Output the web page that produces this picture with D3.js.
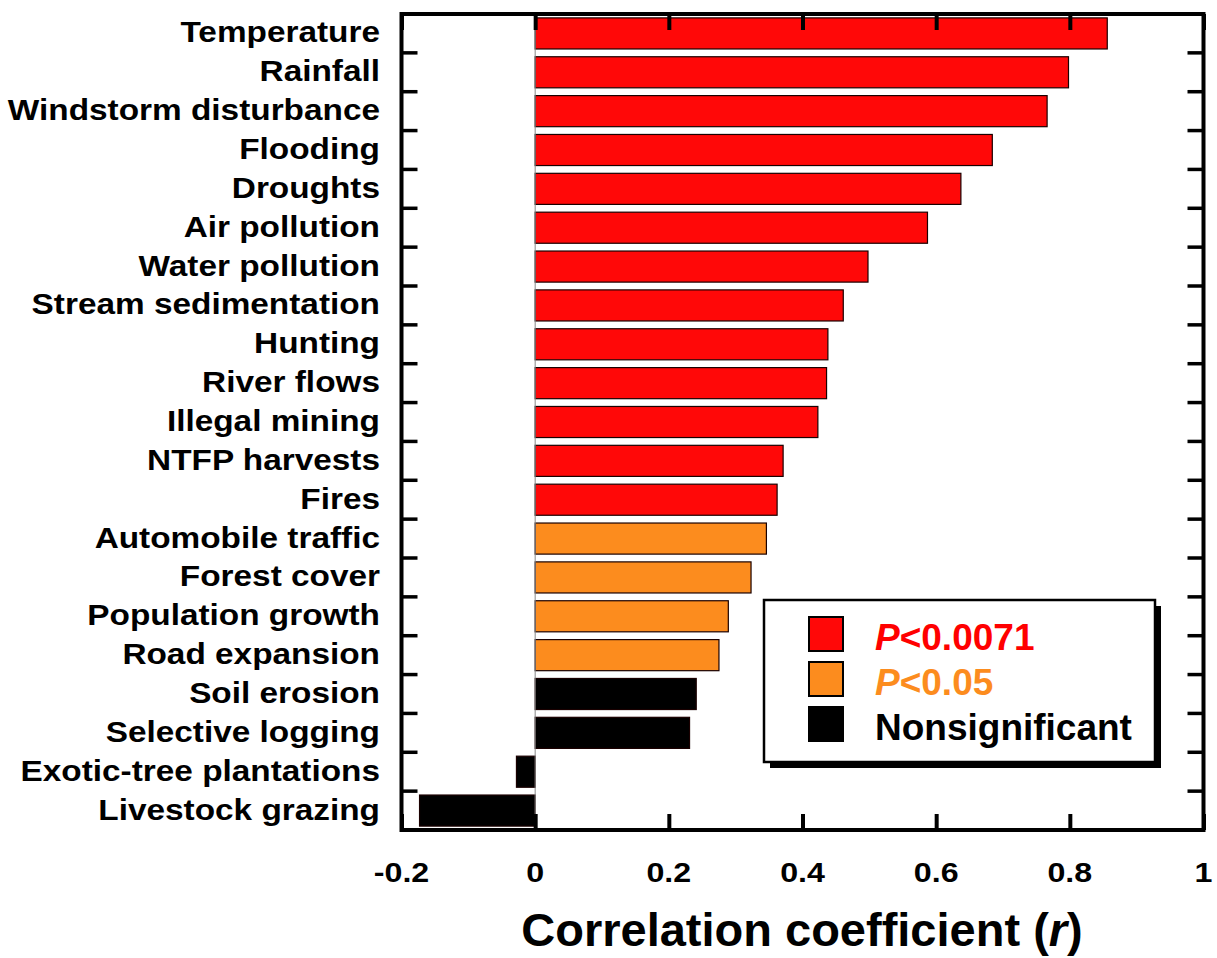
<!DOCTYPE html>
<html>
<head>
<meta charset="utf-8">
<script src="https://cdn.jsdelivr.net/npm/d3@7"></script>
<style>
  body { margin: 0; background: #fff; }
  text { font-family: "Liberation Sans", Arial, sans-serif; font-weight: bold; }
</style>
</head>
<body>
<div id="chart"></div>
<script>
// drivers, sorted as in the figure (top to bottom)
const drivers = [
  'Temperature', 'Rainfall', 'Windstorm disturbance', 'Flooding', 'Droughts',
  'Air pollution', 'Water pollution', 'Stream sedimentation', 'Hunting',
  'River flows', 'Illegal mining', 'NTFP harvests', 'Fires',
  'Automobile traffic', 'Forest cover', 'Population growth', 'Road expansion',
  'Soil erosion', 'Selective logging', 'Exotic-tree plantations', 'Livestock grazing'
];
const rValues = [
  0.856, 0.798, 0.766, 0.684, 0.637,
  0.587, 0.498, 0.461, 0.438,
  0.436, 0.423, 0.371, 0.362,
  0.346, 0.323, 0.289, 0.275,
  0.241, 0.231, -0.028, -0.173
];
// 0 = P<0.0071, 1 = P<0.05, 2 = nonsignificant
const significance = [
  0, 0, 0, 0, 0,
  0, 0, 0, 0,
  0, 0, 0, 0,
  1, 1, 1, 1,
  2, 2, 2, 2
];
const legendLabels = ['<0.0071', '<0.05', 'Nonsignificant'];
const xTicks = [-0.2, 0, 0.2, 0.4, 0.6, 0.8, 1];
const xTickLabels = ['-0.2', '0', '0.2', '0.4', '0.6', '0.8', '1'];

const fills = ['#ff0808', '#fc8c1e', '#000000'];
const textFills = ['#ff0000', '#fc8c1e', '#000000'];

const W = 1217, H = 958;
const plotL = 401.5, plotR = 1203.5, plotT = 14, plotB = 830;

const svg = d3.select('#chart').append('svg')
  .attr('width', W)
  .attr('height', H);

const x = d3.scaleLinear().domain([-0.2, 1]).range([plotL, plotR]);
const y = d3.scaleBand().domain(drivers).range([plotT, plotB])
  .paddingInner(0.2).paddingOuter(0.1);
const step = y.step();

// bars
svg.append('g').selectAll('rect')
  .data(drivers)
  .enter().append('rect')
  .attr('x', (d, i) => x(Math.min(0, rValues[i])))
  .attr('y', d => y(d))
  .attr('width', (d, i) => Math.abs(x(rValues[i]) - x(0)))
  .attr('height', y.bandwidth())
  .attr('fill', (d, i) => fills[significance[i]])
  .attr('stroke', '#1a0000')
  .attr('stroke-width', 1.2);

// zero line
svg.append('line')
  .attr('x1', x(0)).attr('x2', x(0))
  .attr('y1', plotT).attr('y2', plotB)
  .attr('stroke', '#888')
  .attr('stroke-width', 1);

// inward ticks on all four sides
const tickLen = 16;
const xAxisTop = d3.axisBottom(x).tickValues(xTicks).tickSize(tickLen).tickFormat('');
const xAxisBottom = d3.axisTop(x).tickValues(xTicks).tickSize(tickLen).tickFormat('');

const bounds = drivers.slice(1).map(d => y(d) - step * 0.1);

svg.append('g').attr('transform', `translate(0,${plotT})`).call(xAxisTop)
  .call(g => g.select('.domain').remove());
svg.append('g').attr('transform', `translate(0,${plotB})`).call(xAxisBottom)
  .call(g => g.select('.domain').remove());

svg.selectAll('.tick line').attr('stroke', '#000').attr('stroke-width', 4);

svg.append('g').selectAll('line')
  .data(bounds)
  .enter().append('line')
  .attr('x1', plotL).attr('x2', plotL + tickLen)
  .attr('y1', d => d).attr('y2', d => d)
  .attr('stroke', '#000').attr('stroke-width', 3.5);

svg.append('g').selectAll('line')
  .data(bounds)
  .enter().append('line')
  .attr('x1', plotR - tickLen).attr('x2', plotR)
  .attr('y1', d => d).attr('y2', d => d)
  .attr('stroke', '#000').attr('stroke-width', 3.5);

// frame
svg.append('rect')
  .attr('x', plotL).attr('y', plotT)
  .attr('width', plotR - plotL).attr('height', plotB - plotT)
  .attr('fill', 'none')
  .attr('stroke', '#000')
  .attr('stroke-width', 4);

// category labels (slightly wide lettering, as in the figure)
svg.append('g').selectAll('g')
  .data(drivers)
  .enter().append('g')
  .attr('transform', d => `translate(380,${y(d) + y.bandwidth() / 2 + 9}) scale(1.15,1)`)
  .append('text')
  .attr('text-anchor', 'end')
  .attr('font-size', 29)
  .attr('fill', '#000')
  .text(d => d);

// x tick labels
svg.append('g').selectAll('g')
  .data(xTicks)
  .enter().append('g')
  .attr('transform', d => `translate(${x(d)},882) scale(1.15,1)`)
  .append('text')
  .attr('text-anchor', 'middle')
  .attr('font-size', 28)
  .text((d, i) => xTickLabels[i]);

// axis title
const title = svg.append('text')
  .attr('x', 802).attr('y', 946)
  .attr('text-anchor', 'middle')
  .attr('font-size', 47);
title.append('tspan').text('Correlation coefficient (');
title.append('tspan').attr('font-style', 'italic').text('r');
title.append('tspan').text(')');

// legend
const lx = 764, ly = 600, lw = 391, lh = 162;
svg.append('rect')
  .attr('x', lx + 6).attr('y', ly + 6)
  .attr('width', lw).attr('height', lh)
  .attr('fill', '#000');
svg.append('rect')
  .attr('x', lx).attr('y', ly)
  .attr('width', lw).attr('height', lh)
  .attr('fill', '#fff')
  .attr('stroke', '#000')
  .attr('stroke-width', 2.5);

const items = svg.append('g').selectAll('g')
  .data(legendLabels)
  .enter().append('g')
  .attr('transform', (d, i) => `translate(0,${i * 45})`);

items.append('rect')
  .attr('x', 809).attr('y', 617)
  .attr('width', 34).attr('height', 34)
  .attr('fill', (d, i) => fills[i])
  .attr('stroke', '#000')
  .attr('stroke-width', 2);

items.append('text')
  .attr('x', 875).attr('y', 650)
  .attr('font-size', 37)
  .attr('fill', (d, i) => textFills[i])
  .each(function(d, i) {
    const t = d3.select(this);
    if (i < 2) {
      t.append('tspan').attr('font-style', 'italic').text('P');
      t.append('tspan').text(d);
    } else {
      t.text(d);
    }
  });
</script>
</body>
</html>
